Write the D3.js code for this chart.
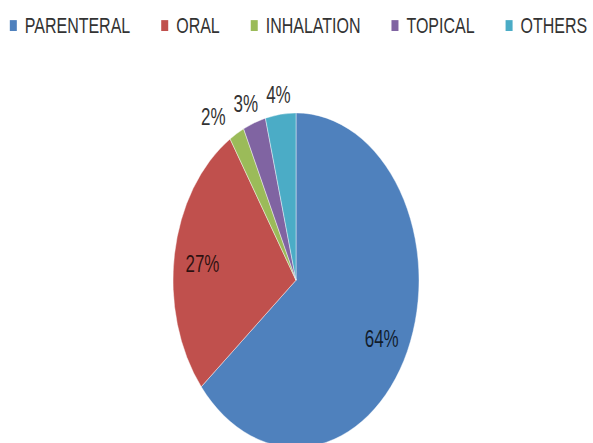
<!DOCTYPE html>
<html>
<head>
<meta charset="utf-8">
<script src="https://cdn.jsdelivr.net/npm/d3@7"></script>
<style>
  html, body { margin: 0; padding: 0; background: #fff; }
  svg { display: block; }
  text { font-family: "Liberation Sans", Arial, sans-serif; }
</style>
</head>
<body>
<svg id="chart" width="593" height="443"></svg>
<script>
// Share of each route of administration
const categories = ["PARENTERAL", "ORAL", "INHALATION", "TOPICAL", "OTHERS"];
const shares = [64, 27, 2, 3, 4];
const colors = ["#4F81BD", "#C0504D", "#9BBB59", "#8064A2", "#4BACC6"];
const labelsInside = [true, true, false, false, false];

const width = 593, height = 443;
const stretchY = 1.36;            // the chart is drawn tall
const radius = 123;
const cx = 296, cy = 206;

const svg = d3.select("#chart");
const root = svg.append("g").attr("transform", `scale(1,${stretchY})`);

// Legend across the top
const legend = root.append("g").attr("class", "legend");
const items = legend.selectAll("g").data(categories).join("g");
items.append("rect")
  .attr("width", 7).attr("height", 8)
  .attr("y", 14.8)
  .attr("fill", (d, i) => colors[i]);
items.append("text")
  .attr("x", 15)
  .attr("y", 24.5)
  .attr("font-size", 16)
  .attr("fill", "#333")
  .text(d => d);

const itemGap = 31;
let widths = [];
items.each(function() {
  widths.push(15 + d3.select(this).select("text").node().getComputedTextLength());
});
const total = d3.sum(widths) + itemGap * (widths.length - 1);
let xPos = (width - total) / 2 + 2;
items.attr("transform", (d, i) => {
  const t = `translate(${xPos},0)`;
  xPos += widths[i] + itemGap;
  return t;
});

// Pie, starting at 12 o'clock and running clockwise
const pie = d3.pie().sort(null).value(d => d.value);
const arcs = pie(categories.map((c, i) => ({ name: c, value: shares[i], i })));

const arc = d3.arc().innerRadius(0).outerRadius(radius);
const inLabelArc = d3.arc().innerRadius(radius * 0.77).outerRadius(radius * 0.77);
const outLabelArc = d3.arc().innerRadius(radius * 1.14).outerRadius(radius * 1.14);

const pieG = root.append("g").attr("transform", `translate(${cx},${cy})`);
pieG.selectAll("path")
  .data(arcs)
  .join("path")
  .attr("d", arc)
  .attr("fill", d => colors[d.data.i])
  .attr("stroke", "#fff")
  .attr("stroke-width", 0.6)
  .attr("stroke-opacity", 0.6);

// Percentage labels: large slices inside, small slices just outside the rim
const labels = pieG.selectAll("text.pct")
  .data(arcs)
  .join("text")
  .attr("class", "pct")
  .attr("text-anchor", "middle")
  .attr("dy", "0.5em")
  .attr("font-size", 17)
  .attr("fill", d => labelsInside[d.data.i] ? "#000" : "#333")
  .attr("fill-opacity", d => labelsInside[d.data.i] ? 0.78 : 1)
  .text(d => d.data.value + "%");

labels.each(function(d) {
  d.pos = labelsInside[d.data.i] ? inLabelArc.centroid(d) : outLabelArc.centroid(d);
  d.w = this.getComputedTextLength();
});

// Nudge crowded outside labels leftwards so they do not touch
const outside = arcs.filter(d => !labelsInside[d.data.i])
  .sort((a, b) => b.pos[0] - a.pos[0]);
for (let k = 1; k < outside.length; k++) {
  const prev = outside[k - 1], cur = outside[k];
  const maxX = prev.pos[0] - prev.w / 2 - 8 - cur.w / 2;
  if (cur.pos[0] > maxX) cur.pos[0] = maxX;
}

labels.attr("transform", d => `translate(${d.pos[0]},${d.pos[1]})`);
</script>
</body>
</html>
